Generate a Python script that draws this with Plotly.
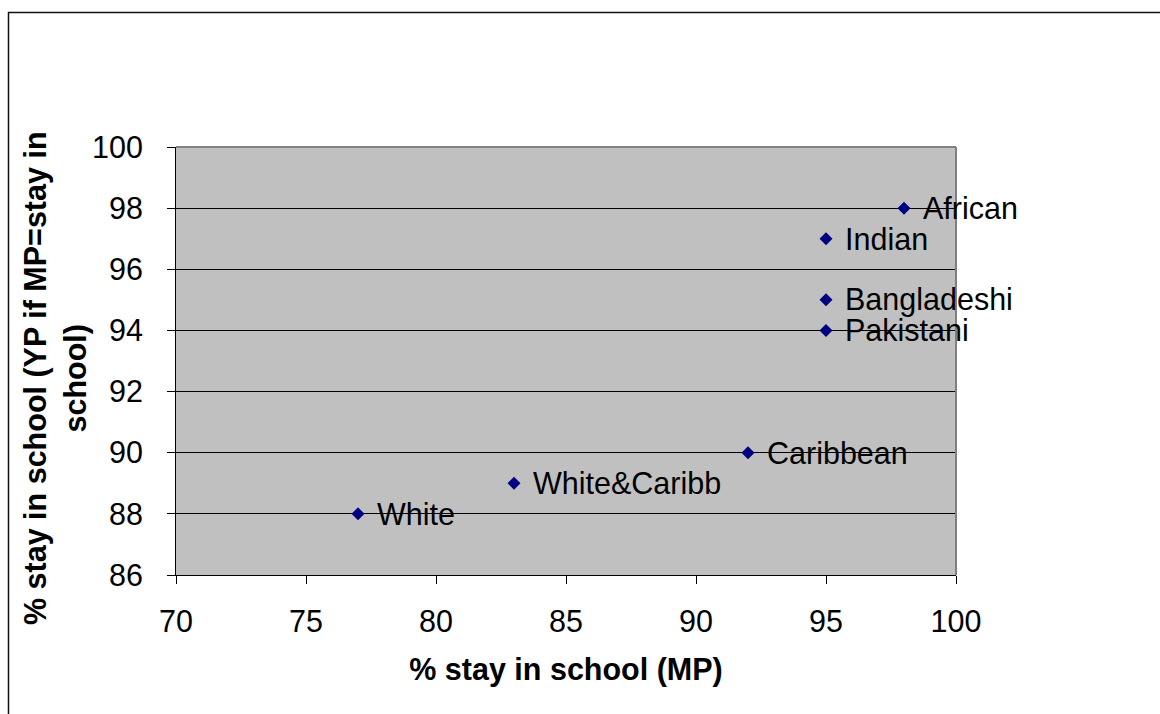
import plotly.graph_objects as go

# Staying-on rates by ethnic group: main parent (MP) vs young person (YP)
groups = ["White", "White&Caribb", "Caribbean", "Pakistani", "Bangladeshi", "Indian", "African"]
mp_stay = [77, 83, 92, 95, 95, 95, 98]
yp_stay = [88, 89, 90, 94, 95, 97, 98]

x_ticks = [70, 75, 80, 85, 90, 95, 100]
y_ticks = [86, 88, 90, 92, 94, 96, 98, 100]

W, H = 1160, 714
L, R, T, B = 176, 204, 147, 139
pw, ph = W - L - R, H - T - B

FONT = "Liberation Sans, Arial, sans-serif"
FS = 30.5

fig = go.Figure()
fig.add_trace(go.Scatter(
    x=mp_stay, y=yp_stay, mode="markers",
    marker=dict(symbol="diamond", size=10, color="#000080",
                line=dict(width=0)),
    hoverinfo="skip", showlegend=False,
))

# point labels to the right of each marker
annotations = [
    dict(x=xv, y=yv, xref="x", yref="y", text=name, showarrow=False,
         xanchor="left", yanchor="middle", xshift=17,
         font=dict(family=FONT, size=FS, color="black"))
    for name, xv, yv in zip(groups, mp_stay, yp_stay)
]

# vertical axis title, two lines
annotations.append(dict(
    x=(55 - L) / pw, y=(H - B - 378) / ph, xref="paper", yref="paper",
    text="<b>% stay in school (YP if MP=stay in<br>school)</b>",
    textangle=-90, showarrow=False, xanchor="center", yanchor="middle",
    font=dict(family=FONT, size=FS, color="black"),
))

shapes = [
    # chart-area border
    dict(type="rect", xref="paper", yref="paper",
         x0=(8.5 - L) / pw, x1=(W + 20 - L) / pw,
         y0=-(B + 20) / ph, y1=(H - B - 12.5) / ph,
         line=dict(color="#111111", width=1.5), layer="below"),
    # top and right edges of the plot area
    dict(type="line", xref="paper", yref="paper", x0=0, x1=1, y0=1, y1=1,
         line=dict(color="#808080", width=2)),
    dict(type="line", xref="paper", yref="paper", x0=1, x1=1, y0=0, y1=1,
         line=dict(color="#808080", width=2)),
]

fig.update_layout(
    width=W, height=H,
    margin=dict(l=L, r=R, t=T, b=B, pad=0),
    paper_bgcolor="white", plot_bgcolor="#C0C0C0",
    font=dict(family=FONT, size=FS, color="black"),
    annotations=annotations, shapes=shapes,
    xaxis=dict(
        range=[70, 100], tickvals=x_ticks, ticktext=[str(v) for v in x_ticks],
        showgrid=False, zeroline=False,
        showline=True, linecolor="black", linewidth=1,
        ticks="outside", ticklen=8, tickcolor="black", tickwidth=1,
        ticklabelstandoff=11,
        tickfont=dict(family=FONT, size=FS, color="black"),
        title=dict(text="<b>% stay in school (MP)</b>", standoff=22,
                   font=dict(family=FONT, size=FS, color="black")),
    ),
    yaxis=dict(
        range=[86, 100], tickvals=y_ticks, ticktext=[str(v) for v in y_ticks],
        showgrid=True, gridcolor="black", gridwidth=1, zeroline=False,
        showline=True, linecolor="black", linewidth=1,
        ticks="outside", ticklen=8, tickcolor="black", tickwidth=1,
        ticklabelstandoff=18,
        tickfont=dict(family=FONT, size=FS, color="black"),
    ),
)

fig.write_html("out.html")
